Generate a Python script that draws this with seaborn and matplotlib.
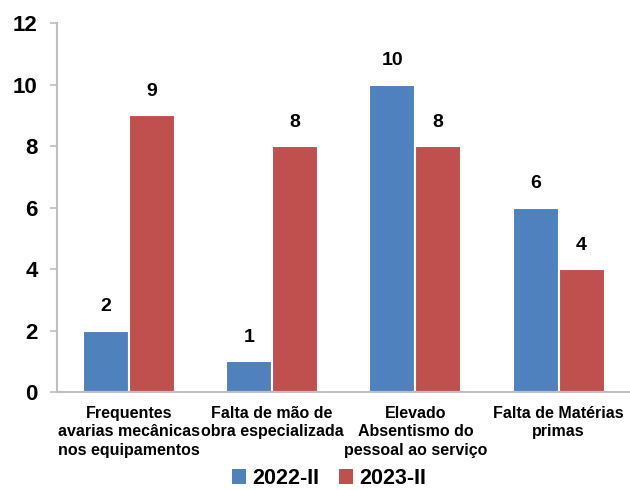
import matplotlib
matplotlib.use("Agg")
import matplotlib.pyplot as plt
import seaborn as sns
import pandas as pd
from matplotlib.patches import Patch

categories = ["Frequentes\navarias mecânicas\nnos equipamentos",
              "Falta de mão de\nobra especializada",
              "Elevado\nAbsentismo do\npessoal ao serviço",
              "Falta de Matérias\nprimas"]
series = ["2022-II", "2023-II"]
values_2022 = [2, 1, 10, 6]
values_2023 = [9, 8, 8, 4]
colors = ["#4F81BD", "#C0504D"]

df = pd.DataFrame({
    "cat": categories * 2,
    "serie": [series[0]] * 4 + [series[1]] * 4,
    "val": values_2022 + values_2023,
})

sns.set_style("white")
plt.rcParams["font.family"] = ["Liberation Sans", "DejaVu Sans"]
plt.rcParams["text.color"] = "black"
plt.rcParams["xtick.color"] = "black"
plt.rcParams["ytick.color"] = "black"

fig = plt.figure(figsize=(6.3, 4.9), dpi=100)
ax = fig.add_axes([0.0905, 0.2, 0.91, 0.753])

sns.barplot(data=df, x="cat", y="val", hue="serie", palette=colors,
            width=0.64, edgecolor="white", linewidth=1.5, ax=ax,
            legend=False, saturation=1)

for cont in ax.containers:
    ax.bar_label(cont, fmt="%d", padding=11, fontsize=14, fontweight="bold",
                 color="black")

ax.set_ylim(0, 12)
ax.set_yticks(range(0, 13, 2))
ax.set_xlim(-0.5, 3.5)
ax.set_xlabel("")
ax.set_ylabel("")

for s in ["top", "right"]:
    ax.spines[s].set_visible(False)
for s in ["left", "bottom"]:
    ax.spines[s].set_color("#BFBFBF")
    ax.spines[s].set_linewidth(1.5)

ax.tick_params(axis="y", length=5, width=1.2, color="#BFBFBF", pad=9,
               labelsize=16, left=True, labelcolor="black")
ax.tick_params(axis="x", length=0, pad=10, labelsize=11.5, labelcolor="black")
for lab in ax.get_yticklabels():
    lab.set_fontweight("bold")
for lab in ax.get_xticklabels():
    lab.set_fontweight("bold")
    lab.set_linespacing(1.3)

handles = [Patch(facecolor=c, edgecolor="none") for c in colors]
fig.legend(handles, series, loc="lower center", bbox_to_anchor=(0.522, -0.038),
           ncol=2, frameon=False, prop={"size": 15.5, "weight": "bold"},
           handlelength=0.65, handleheight=0.65, handletextpad=0.3,
           columnspacing=0.9)

fig.savefig("out.png", dpi=100)
